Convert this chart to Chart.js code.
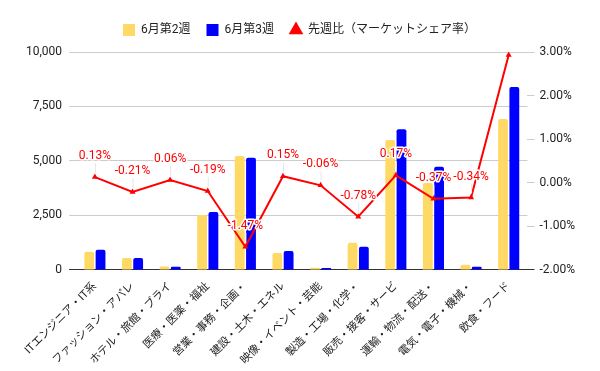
<!DOCTYPE html>
<html>
<head>
<meta charset="utf-8">
<script src="https://cdn.jsdelivr.net/npm/chart.js@4"></script>
<style>
  html, body { margin: 0; padding: 0; background: #fff; }
  #wrap { width: 600px; height: 371px; }
</style>
</head>
<body>
<div id="wrap"><canvas id="weeklyChart"></canvas></div>
<script>
// categories (labels are cut off in the original sheet)
var categories = [
    'ITエンジニア・IT系', 'ファッション・アパレ', 'ホテル・旅館・ブライ', '医療・医薬・福祉',
    '営業・事務・企画・', '建設・土木・エネル', '映像・イベント・芸能', '製造・工場・化学・',
    '販売・接客・サービ', '運輸・物流・配送・', '電気・電子・機械・', '飲食・フード'
];
var week2 = [830, 540, 150, 2520, 5230, 780, 100, 1250, 5960, 3990, 230, 6930];
var week3 = [920, 545, 140, 2660, 5150, 870, 90, 1060, 6450, 4730, 140, 8390];
var shareChange = [0.13, -0.21, 0.06, -0.19, -1.47, 0.15, -0.06, -0.78, 0.17, -0.37, -0.34, 2.93];

var leftTicks = [0, 2500, 5000, 7500, 10000];
var rightTicks = [-2, -1, 0, 1, 2, 3];

var FONT = "Roboto, 'Noto Sans CJK JP', sans-serif";
Chart.defaults.font.family = FONT;
Chart.defaults.color = '#222';

// point labels with white halo, like the sheet's data labels
var pointLabels = {
    id: 'pointLabels',
    afterDatasetsDraw: function(chart) {
        var ctx = chart.ctx;
        var meta = chart.getDatasetMeta(2);
        ctx.save();
        ctx.font = '12px ' + FONT;
        ctx.textAlign = 'center';
        ctx.textBaseline = 'middle';
        meta.data.forEach(function(pt, i) {
            var ly = pt.y - 21;
            if (ly - 6 < chart.chartArea.top) return;
            ctx.strokeStyle = '#e6e6e6';
            ctx.lineWidth = 1;
            ctx.beginPath();
            ctx.moveTo(pt.x + 0.5, ly + 7);
            ctx.lineTo(pt.x + 0.5, pt.y - 4);
            ctx.stroke();
            var txt = shareChange[i].toFixed(2) + '%';
            ctx.lineWidth = 3;
            ctx.strokeStyle = '#fff';
            ctx.lineJoin = 'round';
            ctx.strokeText(txt, pt.x, ly);
            ctx.fillStyle = '#ff0000';
            ctx.fillText(txt, pt.x, ly);
        });
        ctx.restore();
    }
};

// a bit more room under the legend
var legendGap = {
    id: 'legendGap',
    afterInit: function(chart) {
        var fit = chart.legend.fit;
        chart.legend.fit = function() {
            fit.call(this);
            this.height += 6;
        };
    }
};

var ctx = document.getElementById('weeklyChart').getContext('2d');
var chart = new Chart(ctx, {
    type: 'bar',
    data: {
        labels: categories,
        datasets: [{
            label: '6月第2週',
            data: week2,
            backgroundColor: '#ffd966',
            borderRadius: 2,
            categoryPercentage: 0.6,
            barPercentage: 0.87,
            pointStyle: 'rect',
            order: 1,
            yAxisID: 'y'
        }, {
            label: '6月第3週',
            data: week3,
            backgroundColor: '#0000ff',
            borderRadius: 2,
            categoryPercentage: 0.6,
            barPercentage: 0.87,
            pointStyle: 'rect',
            order: 1,
            yAxisID: 'y'
        }, {
            type: 'line',
            label: '先週比（マーケットシェア率）',
            data: shareChange,
            borderColor: '#ff0000',
            backgroundColor: '#ff0000',
            borderWidth: 2,
            pointStyle: 'triangle',
            pointRadius: 3.5,
            pointBackgroundColor: '#ff0000',
            pointBorderWidth: 0,
            tension: 0,
            order: 0,
            yAxisID: 'y1'
        }]
    },
    options: {
        responsive: true,
        maintainAspectRatio: false,
        animation: false,
        layout: { padding: { top: 8, left: 19, right: 20, bottom: 2 } },
        plugins: {
            tooltip: { enabled: false },
            legend: {
                position: 'top',
                labels: {
                    usePointStyle: true,
                    boxHeight: 12,
                    padding: 16,
                    font: { size: 12 },
                    color: '#222',
                    sort: function(a, b) { return a.datasetIndex - b.datasetIndex; }
                }
            }
        },
        scales: {
            x: {
                grid: { display: false },
                border: { display: true, color: '#333' },
                ticks: {
                    autoSkip: false,
                    minRotation: 45,
                    maxRotation: 45,
                    padding: 2,
                    font: { size: 11 },
                    color: '#222'
                }
            },
            y: {
                position: 'left',
                min: leftTicks[0],
                max: leftTicks[leftTicks.length - 1],
                afterBuildTicks: function(axis) {
                    axis.ticks = leftTicks.map(function(v) { return { value: v }; });
                },
                border: { display: false },
                grid: {
                    color: function(c) { return c.tick && c.tick.value === 0 ? '#333' : '#cccccc'; },
                    tickLength: 7,
                    tickColor: function(c) { return c.tick && c.tick.value === 0 ? '#333' : '#cccccc'; }
                },
                ticks: {
                    padding: 7,
                    font: { size: 12 },
                    color: '#222',
                    callback: function(v) { return v.toLocaleString('en-US'); }
                }
            },
            y1: {
                position: 'right',
                min: rightTicks[0],
                max: rightTicks[rightTicks.length - 1],
                afterBuildTicks: function(axis) {
                    axis.ticks = rightTicks.map(function(v) { return { value: v }; });
                },
                border: { display: false },
                grid: {
                    drawOnChartArea: false,
                    tickLength: 7,
                    color: function(c) { return c.tick && c.tick.value === -2 ? '#333' : '#cccccc'; }
                },
                ticks: {
                    padding: 5,
                    font: { size: 12 },
                    color: '#222',
                    callback: function(v) { return v.toFixed(2) + '%'; }
                }
            }
        }
    },
    plugins: [pointLabels, legendGap]
});
</script>
</body>
</html>
